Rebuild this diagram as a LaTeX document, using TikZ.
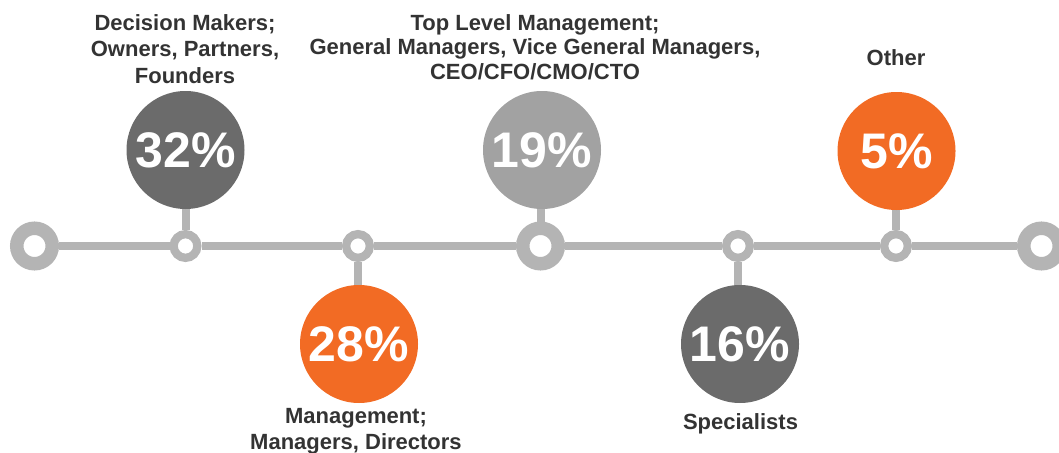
\documentclass[tikz,border=0pt]{standalone}
\usepackage{fontspec}
\setmainfont{Liberation Sans}
\usetikzlibrary{backgrounds}
\definecolor{linegray}{HTML}{B4B4B4}
\definecolor{darkc}{HTML}{6B6B6B}
\definecolor{lightc}{HTML}{A2A2A2}
\definecolor{orangec}{HTML}{F26B24}
\definecolor{txt}{HTML}{333333}
\begin{document}
\begin{tikzpicture}[x=1pt,y=-1pt,
  bigring/.style={circle,draw=linegray,fill=white,line width=13.5pt,minimum size=35.5pt,inner sep=0pt},
  smallring/.style={circle,draw=linegray,fill=white,line width=8.3pt,minimum size=23.7pt,inner sep=0pt},
  bubble/.style={circle,minimum size=118pt,inner sep=0pt,text=white,font=\fontsize{50}{50}\selectfont\bfseries},
  conn/.style={draw=linegray,line width=8pt},
  lbl/.style={text=txt,align=center,inner sep=0pt,anchor=north,font=\fontsize{22}{#1}\selectfont\bfseries},
]
\useasboundingbox (0,0) rectangle (1059,452);
% rings on the timeline
\node[bigring] (e1) at (34.5,246) {};
\node[smallring] (r1) at (185.5,246) {};
\node[smallring] (r2) at (358,246) {};
\node[bigring] (r3) at (540.5,246) {};
\node[smallring] (r4) at (738,246) {};
\node[smallring] (r5) at (896,246) {};
\node[bigring] (e2) at (1041.5,246) {};
% bubbles
\node[bubble,fill=darkc] (b1) at (185.5,150) {32\%};
\node[bubble,fill=orangec] (b2) at (359,344) {28\%};
\node[bubble,fill=lightc] (b3) at (542,150) {19\%};
\node[bubble,fill=darkc] (b4) at (740,344) {16\%};
\node[bubble,fill=orangec] (b5) at (896.5,151) {5\%};
% connectors behind
\begin{scope}[on background layer]
\draw[conn] (e1) -- (r1) -- (r2) -- (r3) -- (r4) -- (r5) -- (e2);
\draw[conn] (r1) -- (r1 |- b1);
\draw[conn] (r2) -- (r2 |- b2);
\draw[conn] (r3) -- (r3 |- b3);
\draw[conn] (r4) -- (r4 |- b4);
\draw[conn] (r5) -- (r5 |- b5);
\end{scope}
% labels
\node[lbl=26.3] (t1) at (185,14.5) {Decision Makers;\\Owners, Partners,\\Founders};
\node[lbl=24.3] (t3) at (535,14.5) {Top Level Management;\\General Managers, Vice General Managers,\\CEO/CFO/CMO/CTO};
\node[lbl=25] (t5) at (896,49.5) {Other};
\node[lbl=26.5] (t2) at (356,408) {Management;\\Managers, Directors};
\node[lbl=25] (t4) at (740.5,413.5) {Specialists};
\end{tikzpicture}
\end{document}
